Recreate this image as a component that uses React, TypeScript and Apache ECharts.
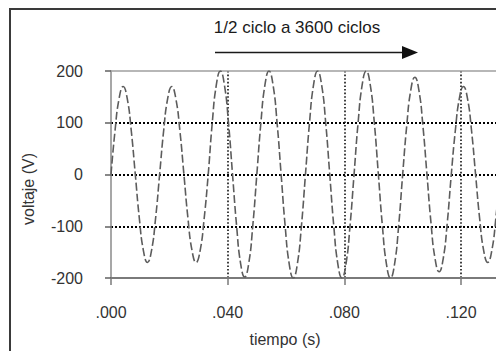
import React, { useEffect, useRef } from "react";
import * as echarts from "echarts";

// time samples (s), every 1/720 s
const tiempo: number[] = [
  0, 0.00139, 0.00278, 0.00417, 0.00556, 0.00694, 0.00833, 0.00972, 0.01111, 0.0125, 0.01389, 0.01528,
  0.01667, 0.01806, 0.01944, 0.02083, 0.02222, 0.02361, 0.025, 0.02639, 0.02778, 0.02917, 0.03056, 0.03194,
  0.03333, 0.03472, 0.03611, 0.0375, 0.03889, 0.04028, 0.04167, 0.04306, 0.04444, 0.04583, 0.04722, 0.04861,
  0.05, 0.05139, 0.05278, 0.05417, 0.05556, 0.05694, 0.05833, 0.05972, 0.06111, 0.0625, 0.06389, 0.06528,
  0.06667, 0.06806, 0.06944, 0.07083, 0.07222, 0.07361, 0.075, 0.07639, 0.07778, 0.07917, 0.08056, 0.08194,
  0.08333, 0.08472, 0.08611, 0.0875, 0.08889, 0.09028, 0.09167, 0.09306, 0.09444, 0.09583, 0.09722, 0.09861,
  0.1, 0.10139, 0.10278, 0.10417, 0.10556, 0.10694, 0.10833, 0.10972, 0.11111, 0.1125, 0.11389, 0.11528,
  0.11667, 0.11806, 0.11944, 0.12083, 0.12222, 0.12361, 0.125, 0.12639, 0.12778, 0.12917, 0.13056, 0.13194,
  0.13333,
];

// voltage (V)
const voltaje: number[] = [
  0, 85, 147, 170, 147, 85, 0, -85, -147, -170, -147, -85,
  0, 85, 147, 170, 147, 85, 0, -85, -147, -170, -147, -85,
  0, 100, 173, 200, 173, 100, 0, -99, -172, -198, -172, -99,
  0, 100, 173, 200, 173, 100, 0, -100, -173, -200, -173, -100,
  0, 100, 173, 200, 173, 100, 0, -100, -173, -200, -173, -100,
  0, 100, 173, 200, 173, 100, 0, -100, -173, -200, -173, -100,
  0, 94, 163, 188, 163, 94, 0, -94, -163, -188, -163, -94,
  0, 85, 147, 170, 147, 85, 0, -85, -147, -170, -147, -85,
  0,
];

const yTicks = [-200, -100, 0, 100, 200];
const xTickLabels = [".000", ".040", ".080", ".120"];

const FONT = "Liberation Sans";

export default function App() {
  const ref = useRef<HTMLDivElement>(null);
  useEffect(() => {
    if (!ref.current) return;
    const chart = echarts.init(ref.current, null, { renderer: "svg" });
    const data = tiempo.map((t, i) => [t, voltaje[i]]);
    chart.setOption({
      animation: false,
      backgroundColor: "#ffffff",
      grid: { left: 111, top: 71, width: 385, height: 207, containLabel: false },
      xAxis: [
        {
          type: "value",
          min: 0,
          max: 0.132,
          interval: 0.04,
          axisLine: { show: true, onZero: false, lineStyle: { color: "#7a7a7a", width: 2 } },
          axisTick: { show: true, length: 7, lineStyle: { color: "#7a7a7a", width: 1.5 } },
          axisLabel: {
            margin: 26,
            color: "#333",
            fontFamily: FONT,
            fontSize: 16,
            showMaxLabel: false,
            formatter: (v: number) => {
              const idx = Math.round(v / 0.04);
              return Math.abs(v - idx * 0.04) < 1e-6 ? xTickLabels[idx] ?? "" : "";
            },
          },
          splitLine: {
            show: true,
            showMinLine: false,
            showMaxLine: false,
            lineStyle: { color: "#111", width: 1.6, type: [1.6, 2] },
          },
        },
        {
          type: "value",
          position: "top",
          min: 0,
          max: 0.132,
          axisLine: { show: true, onZero: false, lineStyle: { color: "#a0a0a0", width: 1.5 } },
          axisTick: { show: false },
          axisLabel: { show: false },
          splitLine: { show: false },
        },
      ],
      yAxis: {
        type: "value",
        min: yTicks[0],
        max: yTicks[yTicks.length - 1],
        interval: 100,
        axisLine: { show: true, onZero: false, lineStyle: { color: "#8a8a8a", width: 1.5 } },
        axisTick: { show: true, length: 6, lineStyle: { color: "#606060", width: 1.5 } },
        axisLabel: {
          margin: 28,
          color: "#333",
          fontFamily: FONT,
          fontSize: 16,
          formatter: (v: number) => String(v),
        },
        splitLine: {
          show: true,
          showMinLine: false,
          showMaxLine: false,
          lineStyle: { color: "#000", width: 2, type: [2, 2] },
        },
      },
      series: [
        {
          type: "line",
          data,
          smooth: 0.5,
          showSymbol: false,
          clip: true,
          lineStyle: { color: "#5c5c5c", width: 1.6, type: [8, 3] },
        },
      ],
      graphic: [
        {
          type: "rect",
          shape: { x: 10, y: 9, width: 520, height: 380 },
          style: { fill: "none", stroke: "#3a3a3a", lineWidth: 2 },
          z: 10,
        },
        {
          type: "text",
          x: 297,
          y: 27,
          style: {
            text: "1/2 ciclo a 3600 ciclos",
            fontFamily: FONT,
            fontSize: 17,
            fill: "#1a1a1a",
            align: "center",
            verticalAlign: "middle",
          },
        },
        {
          type: "line",
          shape: { x1: 215, y1: 52.5, x2: 404, y2: 52.5 },
          style: { stroke: "#1a1a1a", lineWidth: 1.5 },
        },
        {
          type: "polygon",
          shape: { points: [[402, 46], [418, 52.5], [402, 59]] },
          style: { fill: "#111" },
        },
        {
          type: "text",
          x: 28,
          y: 189,
          rotation: Math.PI / 2,
          style: {
            text: "voltaje (V)",
            fontFamily: FONT,
            fontSize: 16,
            fill: "#333",
            align: "center",
            verticalAlign: "middle",
          },
        },
        {
          type: "text",
          x: 285,
          y: 339,
          style: {
            text: "tiempo (s)",
            fontFamily: FONT,
            fontSize: 16,
            fill: "#333",
            align: "center",
            verticalAlign: "middle",
          },
        },
      ],
    });
    return () => chart.dispose();
  }, []);
  return (
    <div
      ref={ref}
      style={{ position: "fixed", left: 0, top: 0, width: 496, height: 351, background: "#fff" }}
    />
  );
}
